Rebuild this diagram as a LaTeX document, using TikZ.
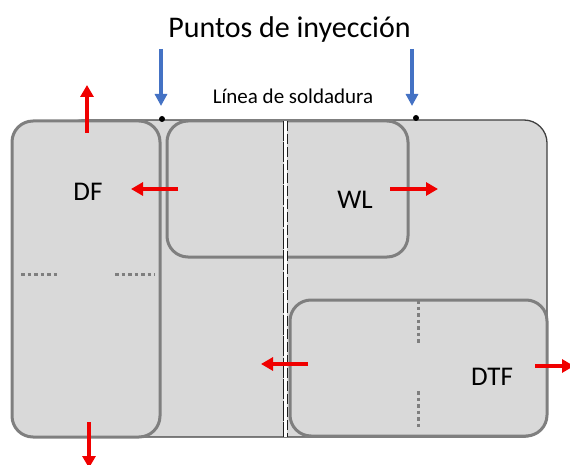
\documentclass[tikz,border=0pt]{standalone}
\usepackage{fontspec}
\setmainfont{Carlito}
\usetikzlibrary{arrows.meta}
\definecolor{boxfill}{HTML}{D9D9D9}
\definecolor{boxline}{HTML}{7F7F7F}
\definecolor{outerline}{HTML}{404040}
\definecolor{injblue}{HTML}{4472C4}
\definecolor{flowred}{HTML}{F00000}
\definecolor{weldline}{HTML}{1E1E1E}
\tikzset{
  zonebox/.style={draw=boxline, line width=3pt, fill=boxfill, rounded corners=21pt},
  outerbox/.style={draw=outerline, line width=1.3pt, fill=boxfill, rounded corners=23pt},
  flowarrow/.style={draw=flowred, line width=4.2pt, -{Triangle[width=13pt,length=12pt]}},
  injarrow/.style={draw=injblue, line width=3.2pt, -{Triangle[width=12pt,length=12pt]}},
  dotline/.style={draw=boxline, line width=3pt, dash pattern=on 3.5pt off 3pt},
  zonelabel/.style={font=\fontsize{27}{32}\selectfont, inner sep=0pt},
  injdot/.style={circle, fill=black, inner sep=0pt, minimum size=6pt}
}
\begin{document}
\begin{tikzpicture}[x=1pt,y=-1pt]
\useasboundingbox (0,0) rectangle (570,465);
% outer part
\path[outerbox] (60,120) rectangle (547,437);
% zones
\path[zonebox] (12,121) rectangle (160,437);
\path[zonebox] (167,121) rectangle (408,257);
\path[zonebox] (290,300) rectangle (547,436);
% weld line
\coordinate (wtop) at (285.5,121);
\coordinate (wbot) at (285.5,437);
\draw[white, line width=2.2pt] (wtop) -- (wbot);
\draw[weldline, line width=1.1pt, dash pattern=on 20pt off 1.5pt] ([xshift=-1.7pt]wtop) -- ([xshift=-1.7pt]wbot);
\draw[weldline, line width=1.1pt, dash pattern=on 10pt off 3pt] ([xshift=1.7pt]wtop) -- ([xshift=1.7pt]wbot);
% dotted lines
\draw[dotline] (21,274) -- (57,274);
\draw[dotline] (115,274) -- (155,274);
\draw[dotline] (418,300) -- (418,344);
\draw[dotline] (418,391) -- (418,429);
% labels
\node[zonelabel] (df) at (88,192) {DF};
\node[zonelabel] (wl) at (355,200) {WL};
\node[zonelabel] (dtf) at (492,377) {DTF};
\node[anchor=base, inner sep=0pt, font=\fontsize{30}{36}\selectfont] (title) at (289.5,38) {Puntos de inyección};
\node[anchor=base, inner sep=0pt, font=\fontsize{21}{25}\selectfont] (weld) at (293,104) {Línea de soldadura};
% injection points
\node[injdot] (ip1) at (162,119) {};
\node[injdot] (ip2) at (416,118) {};
\coordinate (ia1) at (161,49);
\coordinate (ia2) at (412,49);
\coordinate (it1) at (161,106);
\coordinate (it2) at (412,106);
\draw[injarrow] (ia1) -- (it1);
\draw[injarrow] (ia2) -- (it2);
% flow arrows
\coordinate (a1s) at (87,133); \coordinate (a1e) at (87,85);
\coordinate (a2s) at (178,189); \coordinate (a2e) at (131,189);
\coordinate (a3s) at (390,189); \coordinate (a3e) at (438,189);
\coordinate (a4s) at (308,364); \coordinate (a4e) at (261,364);
\coordinate (a5s) at (535,366); \coordinate (a5e) at (574,366);
\coordinate (a6s) at (89,422); \coordinate (a6e) at (89,468);
\draw[flowarrow] (a1s) -- (a1e);
\draw[flowarrow] (a2s) -- (a2e);
\draw[flowarrow] (a3s) -- (a3e);
\draw[flowarrow] (a4s) -- (a4e);
\draw[flowarrow] (a5s) -- (a5e);
\draw[flowarrow] (a6s) -- (a6e);
\end{tikzpicture}
\end{document}
